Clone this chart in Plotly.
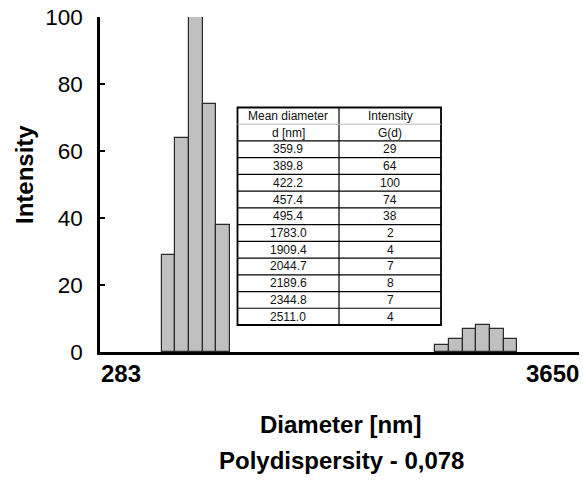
import plotly.graph_objects as go

# ---- data ----
diameters = ["359.9", "389.8", "422.2", "457.4", "495.4",
             "1783.0", "1909.4", "2044.7", "2189.6", "2344.8", "2511.0"]
intensity = [29, 64, 100, 74, 38, 2, 4, 7, 8, 7, 4]
channel = [5, 6, 7, 8, 9, 25, 26, 27, 28, 29, 30]   # size-channel index on the axis
n_channels = 35
axis_min_label = "283"
axis_max_label = "3650"
y_ticks = [0, 20, 40, 60, 80, 100]
table_header = [["Mean diameter", "Intensity"], ["d [nm]", "G(d)"]]
polydispersity = "0,078"

W, H = 583, 484
L, R, T, B = 100, 4, 17, 132
PW, PH = W - L - R, H - T - B


def px(x):
    return (x - L) / PW


def py(y):
    return (H - B - y) / PH


fig = go.Figure()
fig.add_trace(go.Bar(
    x=channel, y=intensity, width=1,
    marker=dict(color="#c0c0c0", line=dict(color="#2a2a2a", width=1.2)),
    hoverinfo="skip",
))

fig.update_layout(
    width=W, height=H,
    margin=dict(l=L, r=R, t=T, b=B, pad=0),
    paper_bgcolor="white", plot_bgcolor="white",
    showlegend=False,
    font=dict(family="Arial, Liberation Sans, sans-serif", color="black"),
    xaxis=dict(range=[0, n_channels], showgrid=False, zeroline=False,
               showticklabels=False, ticks="", showline=True,
               linecolor="black", linewidth=3),
    yaxis=dict(range=[0, 100], tickvals=y_ticks, showgrid=False,
               zeroline=False, showline=True, linecolor="black",
               linewidth=2.5, ticks="inside", ticklen=5, tickwidth=1.5,
               tickcolor="black", tickfont=dict(size=22.5, color="black"),
               ticklabelstandoff=10),
    bargap=0,
)

BF = 24
ann = []
ann.append(dict(text="<b>Intensity</b>", x=px(24), y=py(175), xref="paper",
                yref="paper", textangle=-90, showarrow=False,
                font=dict(size=BF), xanchor="center", yanchor="middle"))
ann.append(dict(text="<b>%s</b>" % axis_min_label, x=px(99), y=py(373),
                xref="paper", yref="paper", showarrow=False,
                font=dict(size=BF), xanchor="left", yanchor="middle"))
ann.append(dict(text="<b>%s</b>" % axis_max_label, x=px(581), y=py(373),
                xref="paper", yref="paper", showarrow=False,
                font=dict(size=BF), xanchor="right", yanchor="middle"))
ann.append(dict(text="<b>Diameter [nm]</b>", x=px(340), y=py(424),
                xref="paper", yref="paper", showarrow=False,
                font=dict(size=BF), xanchor="center", yanchor="middle"))
ann.append(dict(text="<b>Polydispersity - %s</b>" % polydispersity,
                x=px(341), y=py(460), xref="paper", yref="paper",
                showarrow=False, font=dict(size=BF), xanchor="center",
                yanchor="middle"))

# ---- table ----
tx0, tx1, tx2 = 237.5, 339, 441
ty0 = 107.5
rows = table_header + [[d, str(v)] for d, v in zip(diameters, intensity)]
nr = len(rows)
rh = (325 - ty0) / nr
fig.add_shape(type="rect", xref="paper", yref="paper",
              x0=px(tx0), x1=px(tx2), y0=py(ty0), y1=py(ty0 + nr * rh),
              line=dict(color="black", width=1.8), fillcolor="white", layer="above")
fig.add_shape(type="line", xref="paper", yref="paper",
              x0=px(tx1), x1=px(tx1), y0=py(ty0), y1=py(ty0 + nr * rh),
              line=dict(color="black", width=1.2), layer="above")
for i in range(1, nr):
    yy = ty0 + i * rh
    col = "#bbbbbb" if i == 1 else "black"
    fig.add_shape(type="line", xref="paper", yref="paper",
                  x0=px(tx0), x1=px(tx2), y0=py(yy), y1=py(yy),
                  line=dict(color=col, width=1.2), layer="above")
for i, (a, b) in enumerate(rows):
    yc = ty0 + (i + 0.5) * rh
    for txt, xc in ((a, (tx0 + tx1) / 2), (b, (tx1 + tx2) / 2)):
        ann.append(dict(text=txt, x=px(xc), y=py(yc), xref="paper",
                        yref="paper", showarrow=False,
                        font=dict(size=12, color="#111111"),
                        xanchor="center", yanchor="middle"))

fig.update_layout(annotations=ann)
fig.write_html("out.html")
